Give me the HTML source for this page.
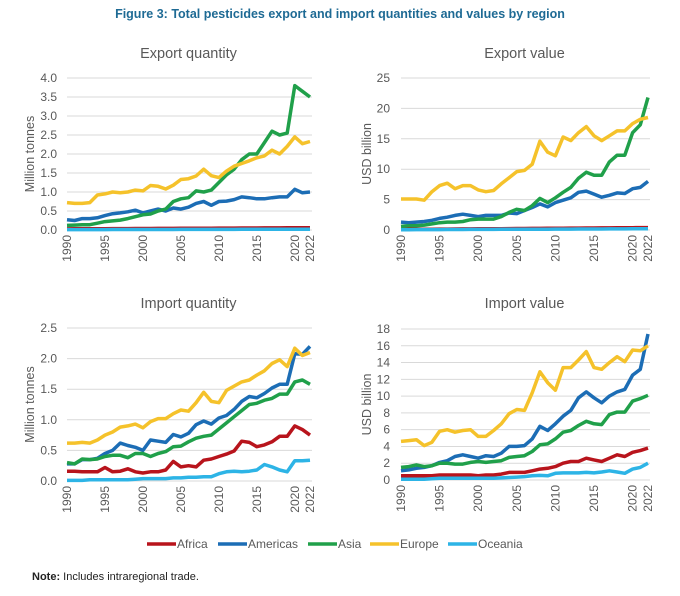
<!DOCTYPE html>
<html><head><meta charset="utf-8"><style>
body{margin:0;background:#fff;width:680px;height:591px;overflow:hidden;font-family:"Liberation Sans",sans-serif}
svg text{font-family:"Liberation Sans",sans-serif}
</style></head><body>
<svg id="s" width="680" height="591" xmlns="http://www.w3.org/2000/svg">
<text x="340" y="18" text-anchor="middle" font-size="12.5" font-weight="bold" fill="#1e6a94">Figure 3: Total pesticides export and import quantities and values by region</text>
<text x="32" y="580" font-size="11" fill="#222"><tspan font-weight="bold">Note:</tspan> Includes intraregional trade.</text>
</svg>
<script>
const C={Africa:"#b8141c",Americas:"#1c6db5",Asia:"#20a04a",Europe:"#f5c22b",Oceania:"#2db4e6"};
const order=["Africa","Oceania","Americas","Asia","Europe"];
function fill(a,b,n){let r=[];for(let i=0;i<n;i++)r.push(a+(b-a)*i/(n-1));return r;}
const charts=[
{t:"Export quantity",yl:"Million tonnes",x0:67,x1:310,yt:78,yb:230,max:4,ticks:[0,.5,1,1.5,2,2.5,3,3.5,4],fmt:v=>v.toFixed(1),lx:57,ax:30,ty:53,
d:{Europe:[0.72,0.7,0.7,0.72,0.92,0.95,1.0,0.98,1.0,1.05,1.03,1.17,1.15,1.08,1.18,1.33,1.35,1.42,1.6,1.43,1.38,1.55,1.68,1.75,1.82,1.9,1.95,2.1,2.0,2.2,2.45,2.27,2.33],
Asia:[0.12,0.13,0.14,0.14,0.18,0.22,0.24,0.26,0.3,0.35,0.4,0.42,0.5,0.55,0.75,0.82,0.85,1.03,1.0,1.05,1.25,1.45,1.6,1.85,2.0,2.0,2.3,2.6,2.5,2.55,3.8,3.65,3.5],
Americas:[0.27,0.25,0.3,0.3,0.32,0.38,0.43,0.45,0.48,0.52,0.45,0.5,0.55,0.5,0.58,0.55,0.6,0.7,0.75,0.65,0.75,0.76,0.8,0.87,0.85,0.82,0.82,0.85,0.87,0.87,1.07,0.98,1.0],
Africa:fill(0.03,0.06,33),Oceania:fill(0.01,0.02,33)}},
{t:"Export value",yl:"USD billion",x0:401,x1:648,yt:78,yb:230,max:25,ticks:[0,5,10,15,20,25],fmt:v=>v,lx:390,ax:367,ty:53,
d:{Europe:[5.1,5.1,5.1,4.9,6.3,7.3,7.7,6.8,7.3,7.3,6.6,6.3,6.5,7.6,8.6,9.6,9.8,10.8,14.6,12.8,12.2,15.3,14.7,16.0,17.0,15.5,14.7,15.5,16.3,16.3,17.5,18.2,18.5],
Asia:[0.6,0.7,0.7,0.8,1.0,1.2,1.3,1.3,1.4,1.7,1.8,1.8,1.8,2.2,2.9,3.4,3.2,4.0,5.2,4.5,5.3,6.2,7.0,8.5,9.5,9.0,9.0,11.2,12.3,12.3,16.0,17.3,21.8],
Americas:[1.3,1.2,1.3,1.4,1.6,1.9,2.1,2.4,2.6,2.4,2.2,2.4,2.4,2.4,2.8,2.7,3.2,3.7,4.3,3.8,4.5,4.9,5.3,6.2,6.4,5.9,5.4,5.7,6.1,6.0,6.8,7.0,8.0],
Africa:fill(0.1,0.4,33),Oceania:fill(0.05,0.2,33)}},
{t:"Import quantity",yl:"Million tonnes",x0:67,x1:310,yt:328,yb:481,max:2.5,ticks:[0,.5,1,1.5,2,2.5],fmt:v=>v.toFixed(1),lx:57,ax:30,ty:303,
d:{Europe:[0.62,0.62,0.63,0.62,0.67,0.75,0.8,0.88,0.9,0.93,0.87,0.97,1.02,1.02,1.1,1.16,1.14,1.28,1.45,1.3,1.28,1.48,1.55,1.62,1.65,1.73,1.8,1.92,1.98,1.87,2.17,2.05,2.1],
Americas:[0.28,0.28,0.35,0.35,0.37,0.45,0.5,0.62,0.58,0.55,0.5,0.67,0.65,0.63,0.76,0.72,0.78,0.92,0.98,0.93,1.03,1.07,1.17,1.3,1.38,1.36,1.43,1.52,1.58,1.58,2.08,2.07,2.2],
Asia:[0.3,0.28,0.36,0.35,0.36,0.4,0.42,0.42,0.38,0.45,0.45,0.4,0.45,0.48,0.56,0.57,0.64,0.7,0.73,0.75,0.85,0.95,1.05,1.15,1.25,1.27,1.32,1.35,1.42,1.42,1.62,1.65,1.58],
Africa:[0.16,0.16,0.15,0.15,0.15,0.22,0.15,0.16,0.2,0.15,0.13,0.15,0.15,0.18,0.32,0.23,0.25,0.23,0.34,0.36,0.4,0.44,0.49,0.65,0.63,0.56,0.59,0.64,0.73,0.73,0.9,0.84,0.75],
Oceania:[0.01,0.01,0.01,0.02,0.02,0.02,0.02,0.02,0.02,0.03,0.04,0.04,0.04,0.04,0.05,0.05,0.06,0.06,0.07,0.07,0.12,0.15,0.16,0.15,0.16,0.18,0.27,0.23,0.18,0.15,0.33,0.33,0.34]}},
{t:"Import value",yl:"USD billion",x0:401,x1:648,yt:329,yb:480,max:18,ticks:[0,2,4,6,8,10,12,14,16,18],fmt:v=>v,lx:390,ax:367,ty:303,
d:{Europe:[4.6,4.7,4.8,4.1,4.5,5.8,6.0,5.7,5.9,6.0,5.2,5.2,5.9,6.7,7.9,8.4,8.3,10.4,12.9,11.6,10.7,13.4,13.4,14.3,15.3,13.4,13.2,14.0,14.7,14.1,15.5,15.4,16.0],
Americas:[1.1,1.2,1.4,1.5,1.7,2.1,2.3,2.8,3.0,2.8,2.6,2.9,2.8,3.2,4.0,4.0,4.1,4.9,6.4,5.9,6.7,7.6,8.3,9.8,10.5,9.8,9.2,10.0,10.5,10.8,12.5,13.2,17.4],
Asia:[1.5,1.6,1.8,1.6,1.7,2.0,2.0,1.9,1.9,2.1,2.2,2.1,2.2,2.3,2.7,2.8,2.9,3.4,4.2,4.3,4.9,5.7,5.9,6.5,7.0,6.7,6.6,7.8,8.1,8.1,9.4,9.7,10.1],
Africa:[0.5,0.5,0.5,0.5,0.5,0.6,0.6,0.6,0.6,0.6,0.5,0.6,0.6,0.7,0.9,0.9,0.9,1.1,1.3,1.4,1.6,2.0,2.2,2.2,2.6,2.4,2.2,2.6,3.0,2.8,3.3,3.5,3.8],
Oceania:[0.1,0.1,0.1,0.1,0.15,0.2,0.2,0.2,0.2,0.2,0.2,0.2,0.2,0.25,0.3,0.35,0.4,0.5,0.55,0.5,0.8,0.85,0.85,0.85,0.9,0.85,0.95,1.1,0.95,0.8,1.3,1.5,2.0]}}];
let h="";
for(const c of charts){
 const X=i=>c.x0+(c.x1-c.x0)*i/32, Y=v=>c.yb-(c.yb-c.yt)*v/c.max;
 h+=`<text x="${(c.x0+c.x1)/2}" y="${c.ty+5}" text-anchor="middle" font-size="14.5" fill="#595959">${c.t}</text>`;
 for(const t of c.ticks){const y=Y(t);h+=`<line x1="${c.x0}" x2="${c.x1+2}" y1="${y}" y2="${y}" stroke="#d9d9d9" stroke-width="1"/>`;
  h+=`<text x="${c.lx}" y="${y+4}" text-anchor="end" font-size="12" fill="#595959">${c.fmt(t)}</text>`;}
 h+=`<text transform="translate(${c.ax+4},${(c.yt+c.yb)/2}) rotate(-90)" text-anchor="middle" font-size="12.5" fill="#595959">${c.yl}</text>`;
 for(const yr of [1990,1995,2000,2005,2010,2015,2020,2022]){const x=X(yr-1990);
  h+=`<text transform="translate(${x+4},${c.yb+5}) rotate(-90)" text-anchor="end" font-size="12" fill="#595959">${yr}</text>`;}
 for(const k of order){const p=c.d[k].map((v,i)=>X(i).toFixed(1)+","+Y(v).toFixed(1)).join(" ");
  h+=`<polyline points="${p}" fill="none" stroke="${C[k]}" stroke-width="3.5" stroke-linejoin="round"/>`;}
}
const lg=[["Africa",147],["Americas",218],["Asia",308],["Europe",370],["Oceania",448]];
for(const [k,x] of lg){h+=`<line x1="${x}" x2="${x+29}" y1="544" y2="544" stroke="${C[k]}" stroke-width="3.5"/><text x="${x+30}" y="548" font-size="12" fill="#595959">${k}</text>`;}
document.getElementById("s").insertAdjacentHTML("beforeend",h);
</script>
</body></html>
